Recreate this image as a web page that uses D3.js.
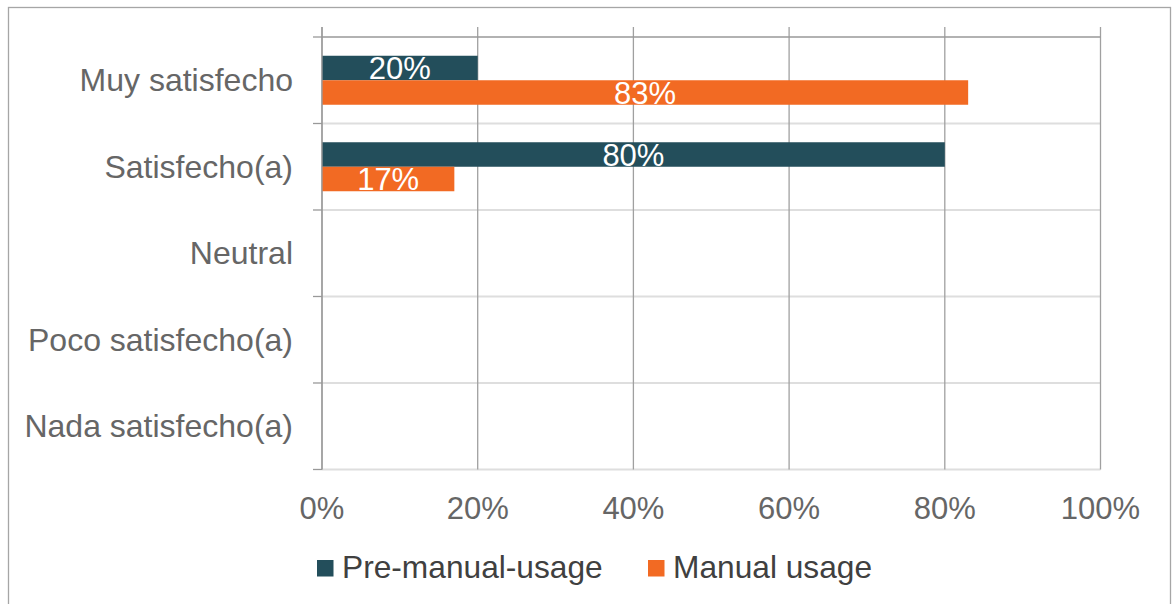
<!DOCTYPE html>
<html>
<head>
<meta charset="utf-8">
<script src="https://cdn.jsdelivr.net/npm/d3@7"></script>
<style>
    body { margin: 0; background: #fff; }
    text { font-family: "Liberation Sans", Arial, sans-serif; }
</style>
</head>
<body>
<div id="chart"></div>
<script>
let categories = ["Muy satisfecho", "Satisfecho(a)", "Neutral", "Poco satisfecho(a)", "Nada satisfecho(a)"];
let seriesNames = ["Pre-manual-usage", "Manual usage"];
let preValues = [0.20, 0.80, 0, 0, 0];
let manualValues = [0.83, 0.17, 0, 0, 0];
let tickValues = [0, 0.2, 0.4, 0.6, 0.8, 1];
let seriesColors = ["#234e5b", "#f26a23"];

function satisfactionbars() {
    let width = 1173,
        height = 604,
        left = 322,
        right = 1100.5,
        top = 37,
        bottom = 469.5;

    let svg = d3.select("#chart")
        .append("svg")
        .attr("width", width)
        .attr("height", height);

    // outer frame
    svg.append("rect")
        .attr("x", 8.5)
        .attr("y", 7.5)
        .attr("width", 1162)
        .attr("height", 620)
        .style("fill", "none")
        .style("stroke", "#a6a6a6")
        .style("stroke-width", 1.3);

    let rows = [];
    categories.forEach(function (c, i) {
        rows.push({cat: c, series: seriesNames[0], value: preValues[i], color: seriesColors[0]});
        rows.push({cat: c, series: seriesNames[1], value: manualValues[i], color: seriesColors[1]});
    });

    let x = d3.scaleLinear()
        .domain([0, 1])
        .range([left, right]);

    let y0 = d3.scaleBand()
        .domain(categories)
        .range([top, bottom])
        .paddingInner(0.4335)
        .paddingOuter(0.2168);

    let y1 = d3.scaleBand()
        .domain(seriesNames)
        .range([0, y0.bandwidth()]);

    let step = y0.step();

    // category separators
    let seps = d3.range(1, categories.length + 1).map(function (i) {
        return top + step * i;
    });
    svg.selectAll(".sep")
        .data(seps)
        .enter()
        .append("line")
        .attr("class", "sep")
        .attr("x1", left)
        .attr("x2", right)
        .attr("y1", function (d) { return d; })
        .attr("y2", function (d) { return d; })
        .style("stroke", "#dedede")
        .style("stroke-width", 2);

    // value gridlines, with ticks above the top axis
    svg.selectAll(".vgrid")
        .data(tickValues)
        .enter()
        .append("line")
        .attr("class", "vgrid")
        .attr("x1", function (d) { return x(d); })
        .attr("x2", function (d) { return x(d); })
        .attr("y1", top - 10)
        .attr("y2", bottom)
        .style("stroke", "#a0a0a0")
        .style("stroke-width", 1.3);

    // top axis line
    svg.append("line")
        .attr("x1", left)
        .attr("x2", right)
        .attr("y1", top)
        .attr("y2", top)
        .style("stroke", "#999")
        .style("stroke-width", 1.3);

    // category ticks on the left
    svg.selectAll(".ctick")
        .data([top].concat(seps))
        .enter()
        .append("line")
        .attr("class", "ctick")
        .attr("x1", left - 9)
        .attr("x2", left)
        .attr("y1", function (d) { return d; })
        .attr("y2", function (d) { return d; })
        .style("stroke", "#999")
        .style("stroke-width", 1.3);

    // bars
    svg.selectAll(".bar")
        .data(rows)
        .enter()
        .append("rect")
        .attr("class", "bar")
        .attr("x", x(0))
        .attr("y", function (d) { return y0(d.cat) + y1(d.series); })
        .attr("width", function (d) { return x(d.value) - x(0); })
        .attr("height", y1.bandwidth())
        .style("fill", function (d) { return d.color; });

    // data labels
    svg.selectAll(".lbl")
        .data(rows.filter(function (d) { return d.value > 0; }))
        .enter()
        .append("text")
        .attr("class", "lbl")
        .attr("x", function (d) { return (x(0) + x(d.value)) / 2; })
        .attr("y", function (d) { return y0(d.cat) + y1(d.series) + y1.bandwidth() / 2 + 11; })
        .style("text-anchor", "middle")
        .style("font-size", "31px")
        .style("fill", "#fff")
        .text(function (d) { return Math.round(d.value * 100) + "%"; });

    // left axis line
    svg.append("line")
        .attr("x1", left)
        .attr("x2", left)
        .attr("y1", top - 10)
        .attr("y2", bottom)
        .style("stroke", "#999")
        .style("stroke-width", 1.3);

    // category labels
    svg.selectAll(".cat")
        .data(categories)
        .enter()
        .append("text")
        .attr("class", "cat")
        .attr("x", 293)
        .attr("y", function (d) { return y0(d) + y0.bandwidth() / 2 + 11; })
        .style("text-anchor", "end")
        .style("font-size", "32px")
        .style("fill", "#666")
        .text(function (d) { return d; });

    // value tick labels
    svg.selectAll(".xt")
        .data(tickValues)
        .enter()
        .append("text")
        .attr("class", "xt")
        .attr("x", function (d) { return x(d); })
        .attr("y", 519)
        .style("text-anchor", "middle")
        .style("font-size", "31px")
        .style("fill", "#666")
        .text(d3.format(".0%"));

    // legend
    let legendX = [317, 648];
    let legend = svg.selectAll(".leg")
        .data(seriesNames)
        .enter()
        .append("g")
        .attr("class", "leg")
        .attr("transform", function (d, i) { return "translate(" + legendX[i] + ",560)"; });

    legend.append("rect")
        .attr("width", 16.5)
        .attr("height", 16.5)
        .style("fill", function (d, i) { return seriesColors[i]; });

    legend.append("text")
        .attr("x", 25)
        .attr("y", 18)
        .style("font-size", "31.7px")
        .style("fill", "#404040")
        .text(function (d) { return d; });
}

satisfactionbars();
</script>
</body>
</html>
